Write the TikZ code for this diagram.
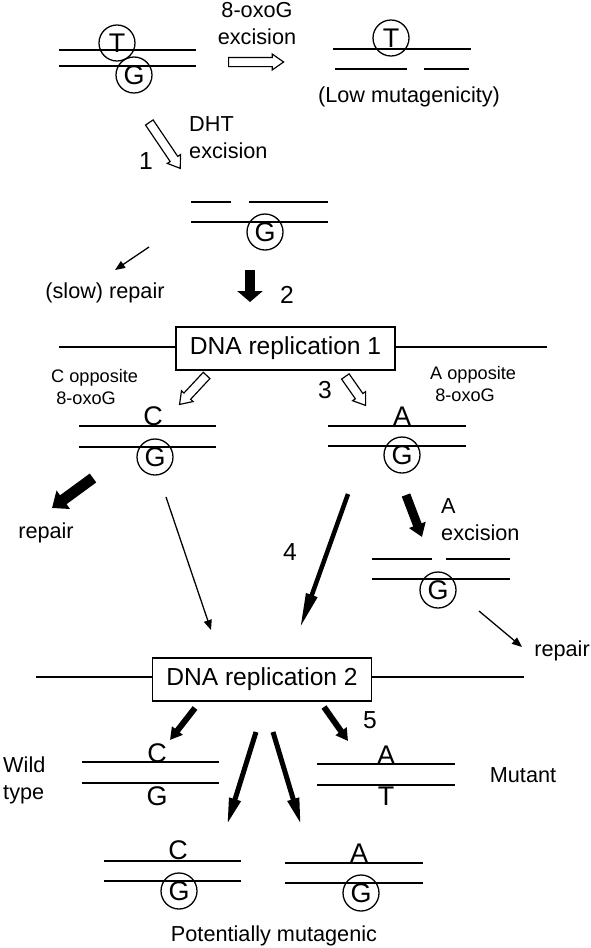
\documentclass[tikz,border=0pt]{standalone}
\usepackage{fontspec}
\setmainfont{Liberation Sans}
\usetikzlibrary{arrows.meta,shapes.arrows}
\newcommand{\letterfont}{\fontsize{23}{27}\selectfont}
\newcommand{\numfont}{\fontsize{21}{25}\selectfont}
\newcommand{\labelfont}{\fontsize{18.5}{23}\selectfont}
\newcommand{\notefont}{\fontsize{15.5}{19}\selectfont}

\begin{document}
\begin{tikzpicture}[x=0.03cm, y=-0.03cm,
    strand/.style={line width=1.1pt},
    lesion/.style={circle, draw, line width=1.1pt, minimum size=1.08cm, inner sep=0pt, font=\letterfont},
    letter/.style={inner sep=0pt, font=\letterfont},
    numeral/.style={inner sep=0pt, font=\numfont},
    txt/.style={font=\labelfont, align=center, inner sep=0pt},
    smalltxt/.style={font=\notefont, align=left, inner sep=0pt, anchor=west},
    repbox/.style={rectangle, draw, line width=1pt, minimum width=6.57cm, minimum height=1.29cm, font=\numfont},
    hollow/.style={single arrow, draw, fill=white, line width=1pt, anchor=tail, inner sep=0.12cm,
      single arrow head extend=0.1cm, single arrow tip angle=70},
    thinarrow/.style={line width=1.1pt, -{Triangle[length=0.3cm, width=0.24cm]}},
    heavy/.style n args={3}{line width=#1, -{Triangle[length=#2, width=#3]}}
  ]
  \useasboundingbox (0,0) rectangle (591,948);

  % T opposite 8-oxoG
  \draw[strand] (59,50) -- (196,50);
  \draw[strand] (59,66) -- (196,66);
  \node (t1) [lesion] at (117,43) {T};
  \node (g1) [lesion] at (134,75) {G};

  % 8-oxoG excision
  \node (oxoarrow) [hollow, minimum height=1.65cm] at (228,62) {};
  \node (oxolabel) [txt] at (257,24) {8-oxoG\\excision};
  \draw[strand] (333,49) -- (471,49);
  \draw[strand] (335,69) -- (407,69);
  \draw[strand] (424,69) -- (469,69);
  \node (t2) [lesion] at (391,38) {T};
  \node (lowmut) [txt] at (409,97) {(Low mutagenicity)};

  % DHT excision
  \node (dhtarrow) [hollow, minimum height=1.66cm, rotate=-56] at (149,122) {};
  \node (dhtlabel) [txt, anchor=west, align=left] at (189,138) {DHT\\excision};
  \node (one) [numeral] at (146,161) {1};
  \draw[strand] (191,202) -- (231,202);
  \draw[strand] (249,202) -- (328,202);
  \draw[strand] (191,222) -- (328,222);
  \node (g2) [lesion] at (265,232) {G};

  \coordinate (slowtail) at (149,247);
  \coordinate (slowtip) at (115,270);
  \draw[thinarrow] (slowtail) -- (slowtip);
  \node (slowrepair) [txt] at (105,293) {(slow) repair};

  % replication 1
  \coordinate (twotail) at (250,270);
  \coordinate (twotip) at (250,302);
  \draw[heavy={0.3cm}{0.33cm}{0.75cm}] (twotail) -- (twotip);
  \node (two) [numeral] at (287,295) {2};
  \node (rep1) [repbox] at (285.5,348.5) {DNA replication 1};
  \coordinate (rep1l) at (59,347);
  \coordinate (rep1r) at (547,347);
  \draw[strand] (rep1l) -- (rep1.west |- rep1l);
  \draw[strand] (rep1.east |- rep1r) -- (rep1r);

  % C opposite 8-oxoG
  \node (copp) [smalltxt] at (51,387) {C opposite\\\ 8-oxoG};
  \node (carrow) [hollow, minimum height=1.19cm, rotate=-133] at (207,375) {};
  \draw[strand] (79,426) -- (216,426);
  \draw[strand] (79,447) -- (216,447);
  \node (c1) [letter] at (153,416) {C};
  \node (g3) [lesion] at (155,457) {G};

  % A opposite 8-oxoG
  \node (three) [numeral] at (325,390) {3};
  \node (aarrow) [hollow, minimum height=1.06cm, rotate=-55] at (345,376) {};
  \node (aopp) [smalltxt] at (430,384) {A opposite\\\ 8-oxoG};
  \draw[strand] (328,426) -- (466,426);
  \draw[strand] (328,446) -- (466,446);
  \node (a1) [letter] at (402,416) {A};
  \node (g4) [lesion] at (402,455) {G};

  % repair of C:8-oxoG
  \coordinate (repltail) at (93,478);
  \coordinate (repltip) at (52,508);
  \draw[heavy={0.33cm}{0.42cm}{0.66cm}] (repltail) -- (repltip);
  \node (repairl) [txt] at (46,533) {repair};

  % towards replication 2
  \coordinate (ctail) at (166,497);
  \coordinate (ctip) at (211,630);
  \draw[thinarrow] (ctail) -- (ctip);
  \coordinate (fourtail) at (348,494);
  \coordinate (fourtip) at (300,628);
  \draw[heavy={0.135cm}{1.05cm}{0.33cm}] (fourtail) -- (fourtip);
  \node (four) [numeral] at (290,552) {4};

  % A excision
  \coordinate (aexctail) at (406,495);
  \coordinate (aexctip) at (422,537);
  \draw[heavy={0.27cm}{0.39cm}{0.51cm}] (aexctail) -- (aexctip);
  \node (aexc) [txt, anchor=west, align=left] at (441,520) {A\\excision};
  \draw[strand] (372,559) -- (432,559);
  \draw[strand] (446,559) -- (510,559);
  \draw[strand] (372,579) -- (510,579);
  \node (g5) [lesion] at (438,590) {G};
  \coordinate (reprtail) at (479,611);
  \coordinate (reprtip) at (522,647);
  \draw[thinarrow] (reprtail) -- (reprtip);
  \node (repairr) [txt, anchor=east] at (590,651) {repair};

  % replication 2
  \node (rep2) [repbox] at (262,679.5) {DNA replication 2};
  \coordinate (rep2l) at (36,677);
  \coordinate (rep2r) at (524,677);
  \draw[strand] (rep2l) -- (rep2.west |- rep2l);
  \draw[strand] (rep2.east |- rep2r) -- (rep2r);

  % wild type
  \coordinate (wildtail) at (195,708);
  \coordinate (wildtip) at (170,740);
  \draw[heavy={0.18cm}{0.36cm}{0.39cm}] (wildtail) -- (wildtip);
  \draw[strand] (82,762) -- (219,762);
  \draw[strand] (82,783) -- (219,783);
  \node (c2) [letter] at (157,753) {C};
  \node (g6) [letter] at (157,796) {G};
  \node (wild) [txt, anchor=west, align=left] at (3,780) {Wild\\type};

  % mutant
  \coordinate (fivetail) at (324,707);
  \coordinate (fivetip) at (348,741);
  \draw[heavy={0.18cm}{0.36cm}{0.39cm}] (fivetail) -- (fivetip);
  \node (five) [numeral] at (370,720) {5};
  \draw[strand] (317,764) -- (455,764);
  \draw[strand] (317,785) -- (455,785);
  \node (a2) [letter] at (386,755) {A};
  \node (t3) [letter] at (386,796) {T};
  \node (mutant) [txt] at (523,775) {Mutant};

  % potentially mutagenic
  \coordinate (pmltail) at (256,732);
  \coordinate (pmltip) at (227,825);
  \coordinate (pmrtail) at (273,732);
  \coordinate (pmrtip) at (301,825);
  \draw[heavy={0.15cm}{0.81cm}{0.33cm}] (pmltail) -- (pmltip);
  \draw[heavy={0.15cm}{0.81cm}{0.33cm}] (pmrtail) -- (pmrtip);
  \draw[strand] (104,861) -- (241,861);
  \draw[strand] (104,881) -- (241,881);
  \node (c3) [letter] at (178,850) {C};
  \node (g7) [lesion] at (179,891) {G};
  \draw[strand] (285,863) -- (423,863);
  \draw[strand] (285,883) -- (423,883);
  \node (a3) [letter] at (359,853) {A};
  \node (g8) [lesion] at (361,893) {G};
  \node (potmut) [txt] at (274,936) {Potentially mutagenic};
\end{tikzpicture}
\end{document}
